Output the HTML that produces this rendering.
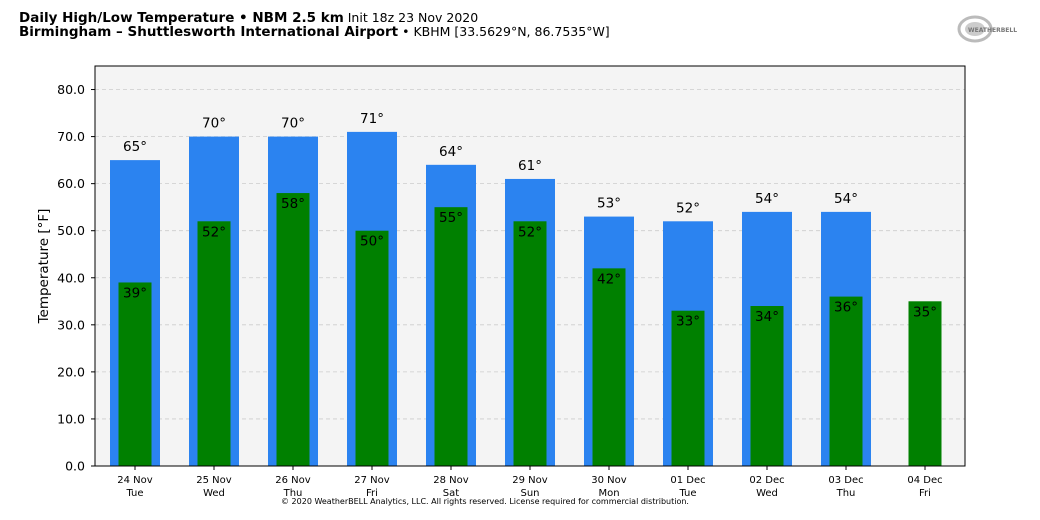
<!DOCTYPE html>
<html><head><meta charset="utf-8">
<style>
body{margin:0;background:#fff;width:1040px;height:516px;overflow:hidden;font-family:"DejaVu Sans","Liberation Sans",sans-serif;}
svg text{font-family:"DejaVu Sans","Liberation Sans",sans-serif;}
</style></head>
<body>
<svg id="chart" width="1040" height="516" xmlns="http://www.w3.org/2000/svg">
<text x="19" y="22" font-size="13.5" fill="#000"><tspan font-weight="bold">Daily High/Low Temperature • NBM 2.5 km</tspan><tspan font-size="12.5"> Init 18z 23 Nov 2020</tspan></text>
<text x="19" y="36" font-size="13.5" fill="#000"><tspan font-weight="bold">Birmingham – Shuttlesworth International Airport</tspan><tspan font-size="12.5"> • KBHM [33.5629°N, 86.7535°W]</tspan></text>
<g>
<ellipse cx="975" cy="29" rx="16" ry="12" fill="none" stroke="#bbb" stroke-width="3"/>
<ellipse cx="975" cy="29" rx="10" ry="7" fill="#ccc"/>
<text x="968" y="32" font-size="6" fill="#777" font-weight="bold">WEATHERBELL</text>
</g>
<rect x="95" y="66" width="870" height="400" fill="#f4f4f4"/>
<g id="grid"></g>
<g id="bars"></g>
<rect x="95" y="66" width="870" height="400" fill="none" stroke="#000" stroke-width="1"/>
<g id="axes"></g>
<text transform="translate(48,266) rotate(-90)" text-anchor="middle" font-size="13.5">Temperature [°F]</text>
<text x="485" y="504" text-anchor="middle" font-size="8">© 2020 WeatherBELL Analytics, LLC. All rights reserved. License required for commercial distribution.</text>
</svg>
<script>
const dates = ["24 Nov","25 Nov","26 Nov","27 Nov","28 Nov","29 Nov","30 Nov","01 Dec","02 Dec","03 Dec","04 Dec"];
const days = ["Tue","Wed","Thu","Fri","Sat","Sun","Mon","Tue","Wed","Thu","Fri"];
const highs = [65,70,70,71,64,61,53,52,54,54,null];
const lows = [39,52,58,50,55,52,42,33,34,36,35];
const yTicks = [0,10,20,30,40,50,60,70,80];
const NS="http://www.w3.org/2000/svg";
const x0=95, plotW=870, yBase=466, yMax=85, plotH=400;
const y = v => yBase - v/yMax*plotH;
const xc = i => 135 + i*79;
function mk(tag, attrs, parent, txt){const e=document.createElementNS(NS,tag);for(const k in attrs)e.setAttribute(k,attrs[k]);if(txt!==undefined)e.textContent=txt;parent.appendChild(e);return e;}
const grid=document.getElementById('grid'), bars=document.getElementById('bars'), axes=document.getElementById('axes');
yTicks.forEach(t=>{
  const g=mk('line',{x1:x0,x2:x0+plotW,y1:y(t),y2:y(t),stroke:'#ccc','stroke-width':0.8,'stroke-dasharray':'4,3'},grid);
  
  
  const tk=mk('line',{x1:x0-4,x2:x0,y1:y(t),y2:y(t),stroke:'#000'},axes);
  
  
  const lb=mk('text',{x:x0-10,y:y(t)+4.5,'text-anchor':'end','font-size':12.5},axes,t.toFixed(1));
  
  
});
dates.forEach((d,i)=>{
  const c=xc(i);
  if(highs[i]!==null){
    const b=mk('rect',{x:c-25,y:y(highs[i]),width:50,height:yBase-y(highs[i]),fill:'#2b83f0'},bars);
    
    
    const t=mk('text',{x:c,y:y(highs[i])-9,'text-anchor':'middle','font-size':13.5},bars,highs[i]+'°');
    
    
  }
  const g=mk('rect',{x:c-16.5,y:y(lows[i]),width:33,height:yBase-y(lows[i]),fill:'#008000'},bars);
  
  
  const lt=mk('text',{x:c,y:y(lows[i])+15,'text-anchor':'middle','font-size':13.5},bars,lows[i]+'°');
  
  
  const tk=mk('line',{x1:c,x2:c,y1:yBase,y2:yBase+4,stroke:'#000'},axes);
  
  
  const l1=mk('text',{x:c,y:yBase+17,'text-anchor':'middle','font-size':10},axes,d);
  
  
  const l2=mk('text',{x:c,y:yBase+30,'text-anchor':'middle','font-size':10},axes,days[i]);
  
  
});
</script>
</body></html>
